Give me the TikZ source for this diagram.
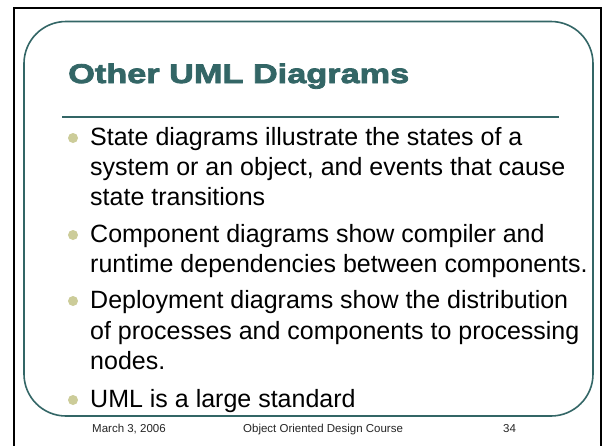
\documentclass[tikz,border=0pt]{standalone}
\usepackage{fontspec}
\setmainfont{Liberation Sans}
\newfontfamily\titlefont[FakeStretch=1.27,FakeBold=3]{Liberation Sans Bold}
\definecolor{slideteal}{RGB}{51,102,102}
\definecolor{bulletdot}{RGB}{204,204,153}
\begin{document}
\begin{tikzpicture}[x=1pt,y=-1pt,
  bodytext/.style={anchor=base west,inner sep=0pt,font=\fontsize{25}{30}\selectfont,text=black},
  dot/.style={fill=bulletdot,draw=none},
  foot/.style={anchor=base west,inner sep=0pt,font=\fontsize{11.5}{13}\selectfont,text=black!85}]
  % page
  \fill[white] (0,0) rectangle (603,445);
  \useasboundingbox (0,0) rectangle (603,445);
  % outer black frame
  \draw[black,line width=2pt] (14,446) -- (14,7.5) -- (601,7.5) -- (601,446);
  % rounded slide panel
  \draw[slideteal,line width=1.6pt,rounded corners=42pt] (24,21.5) rectangle (593,416);
  % title and rule
  \node[anchor=base west,inner sep=0pt,text=slideteal,font=\titlefont\fontsize{27}{30}\selectfont] (title) at (68,83) {Other UML Diagrams};
  \draw[slideteal,line width=2pt] (62,117) -- (559,117);
  % bullets
  \fill[dot] (73,138) circle (5);
  \fill[dot] (73,235) circle (5);
  \fill[dot] (73,301) circle (5);
  \fill[dot] (73,400) circle (5);
  % body text
  \node[bodytext] (l1) at (90,145) {State diagrams illustrate the states of a};
  \node[bodytext] (l2) at (90,175) {system or an object, and events that cause};
  \node[bodytext] (l3) at (90,205) {state transitions};
  \node[bodytext] (l4) at (90,242) {Component diagrams show compiler and};
  \node[bodytext] (l5) at (90,272) {runtime dependencies between components.};
  \node[bodytext] (l6) at (90,308) {Deployment diagrams show the distribution};
  \node[bodytext] (l7) at (90,339) {of processes and components to processing};
  \node[bodytext] (l8) at (90,369) {nodes.};
  \node[bodytext] (l9) at (90,407) {UML is a large standard};
  % footer
  \node[foot] (date) at (92,432) {March 3, 2006};
  \node[foot] (course) at (243,432) {Object Oriented Design Course};
  \node[foot] (page) at (503,432) {34};
\end{tikzpicture}
\end{document}
